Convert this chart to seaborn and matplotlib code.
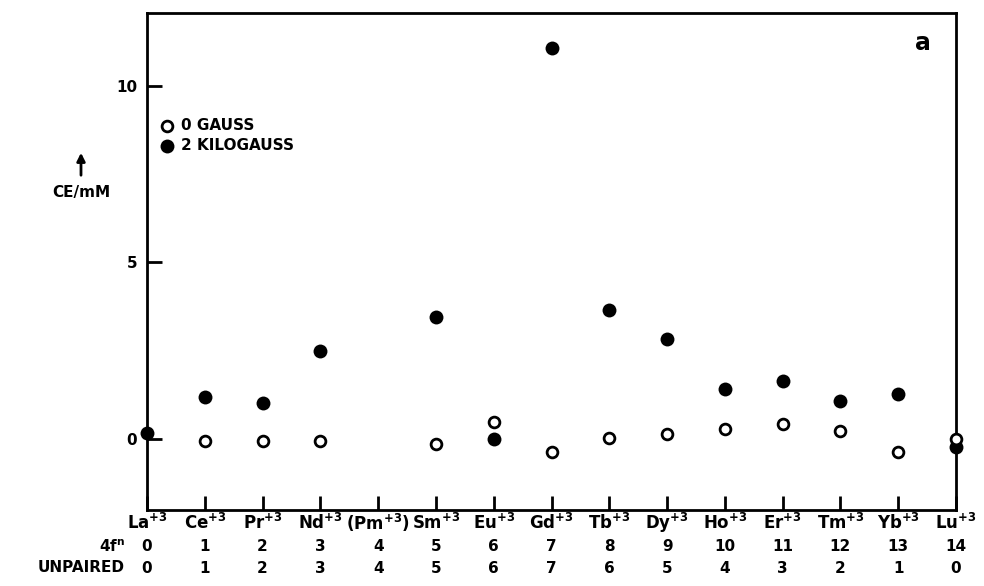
import numpy as np
import pandas as pd
import matplotlib
matplotlib.use("Agg")
import matplotlib.pyplot as plt
import seaborn as sns

# lanthanide series, chemiluminescence per mM at 0 G and 2 kG
elements = ['La', 'Ce', 'Pr', 'Nd', 'Pm', 'Sm', 'Eu', 'Gd', 'Tb', 'Dy', 'Ho', 'Er', 'Tm', 'Yb', 'Lu']
f_electrons = [0, 1, 2, 3, 4, 5, 6, 7, 8, 9, 10, 11, 12, 13, 14]
unpaired = [0, 1, 2, 3, 4, 5, 6, 7, 6, 5, 4, 3, 2, 1, 0]
ce_0gauss = [np.nan, -0.06, -0.06, -0.06, np.nan, -0.14, 0.48, -0.37, 0.03, 0.14, 0.28, 0.42, 0.23, -0.37, 0.0]
ce_2kgauss = [0.17, 1.20, 1.02, 2.49, np.nan, 3.47, 0.02, 11.05, 3.64, 2.82, 1.41, 1.64, 1.07, 1.27, -0.23]
y_ticks = [0, 5, 10]

df = pd.DataFrame({'pos': range(len(elements)), 'el': elements,
                   'g0': ce_0gauss, 'g2k': ce_2kgauss})

sns.set_style("ticks")
plt.rcParams['font.family'] = ['DejaVu Sans']
plt.rcParams['font.weight'] = 'bold'
plt.rcParams['text.color'] = 'black'
plt.rcParams['axes.labelcolor'] = 'black'
plt.rcParams['xtick.color'] = 'black'
plt.rcParams['ytick.color'] = 'black'

fig = plt.figure(figsize=(9.84, 5.86), dpi=100)
ax = fig.add_axes([147/984, 1 - 510/586, (956 - 147)/984, (510 - 13)/586])

sns.scatterplot(data=df, x='pos', y='g2k', ax=ax, color='black', s=100,
                edgecolor='black', linewidth=0, clip_on=False, zorder=3,
                label='2 KILOGAUSS')
sns.scatterplot(data=df, x='pos', y='g0', ax=ax, facecolor='white', s=60,
                edgecolor='black', linewidth=2.0, clip_on=False, zorder=4,
                label='0 GAUSS')

ax.set_xlim(0, 14)
ax.set_ylim(-2, 12.05)
ax.set_xticks(df['pos'])
ax.set_xticklabels([])
ax.set_yticks(y_ticks)
ax.set_yticklabels([str(t) for t in y_ticks], fontsize=11, fontweight='bold')
ax.tick_params(axis='x', direction='in', length=10, width=2)
ax.tick_params(axis='y', direction='in', length=11, width=2, pad=7)
ax.set_xlabel('')
ax.set_ylabel('')
for s in ax.spines.values():
    s.set_linewidth(2)
    s.set_color('black')

# legend: open first, filled second
h, l = ax.get_legend_handles_labels()
leg = ax.legend(h[::-1], l[::-1], loc='upper left', bbox_to_anchor=(0.0, 0.81),
                frameon=False, fontsize=11, handletextpad=0.3, labelspacing=0.35,
                borderaxespad=0.3, handlelength=1.2)

# row labels under the axis
tr = ax.get_xaxis_transform()
for i, el in enumerate(elements):
    lab = el + r'$^{\mathbf{+3}}$'
    if el == 'Pm':
        lab = '(' + lab + ')'
    ax.text(i, -0.026, lab, transform=tr, ha='center', va='center', fontsize=12, fontweight='bold')
    ax.text(i, -0.074, str(f_electrons[i]), transform=tr, ha='center', va='center', fontsize=11, fontweight='bold')
    ax.text(i, -0.117, str(unpaired[i]), transform=tr, ha='center', va='center', fontsize=11, fontweight='bold')

fig.text(125/984, 1 - 547/586, r'4f$^{\mathbf{n}}$', ha='right', va='center', fontsize=11, fontweight='bold')
fig.text(125/984, 1 - 568/586, 'UNPAIRED', ha='right', va='center', fontsize=11, fontweight='bold')

# y label with arrow
fig.text(81/984, 1 - 193/586, 'CE/mM', ha='center', va='center', fontsize=11, fontweight='bold')
fig.add_artist(matplotlib.patches.FancyArrowPatch(
    (81/984, 1 - 178/586), (81/984, 1 - 150/586), transform=fig.transFigure,
    arrowstyle='-|>', mutation_scale=12, lw=2, color='black'))

ax.text(0.959, 0.94, 'a', transform=ax.transAxes, ha='center', va='center', fontsize=17, fontweight='bold')

fig.savefig('out.png', dpi=100)
